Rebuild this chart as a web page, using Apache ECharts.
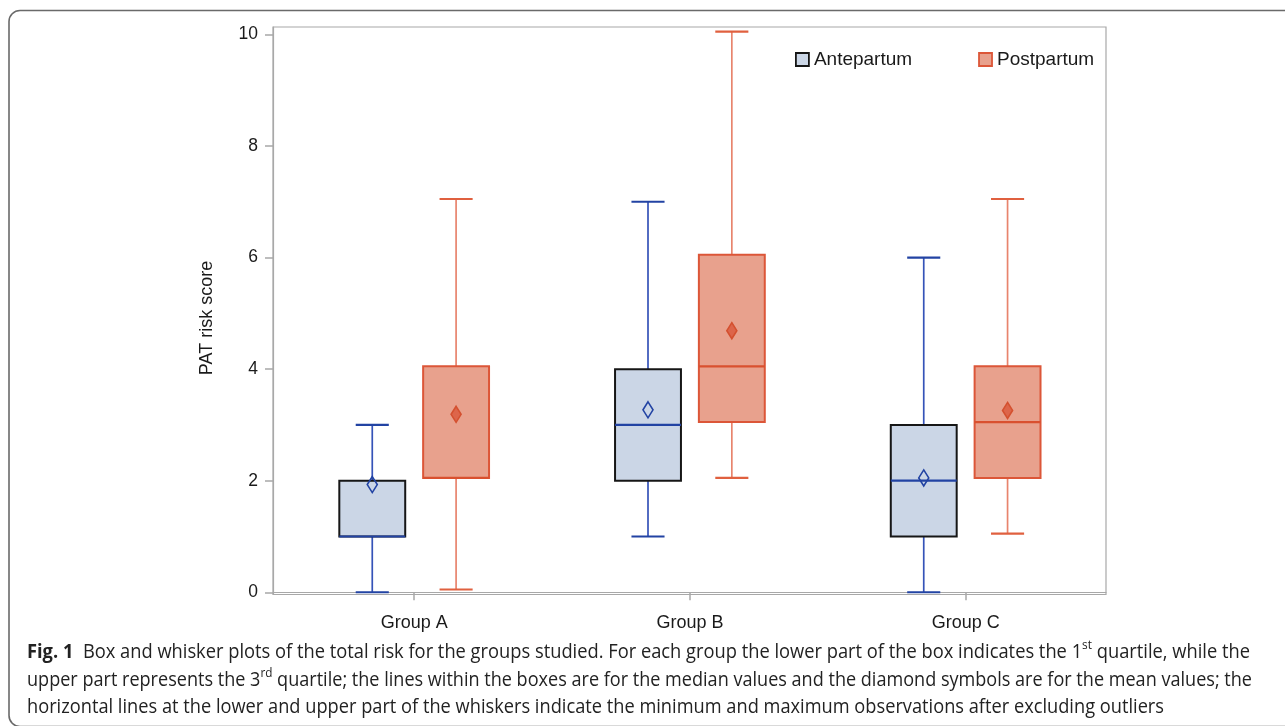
<!DOCTYPE html>
<html>
<head>
<meta charset="utf-8">
<script src="https://cdn.jsdelivr.net/npm/echarts@6/dist/echarts.min.js"></script>
<style>
  html, body { margin: 0; padding: 0; background: #ffffff; }
  #chart { width: 1285px; height: 726px; }
</style>
</head>
<body>
<div id="chart"></div>
<script>
// ---- data ----
const categories = ['Group A', 'Group B', 'Group C'];
const yTicks = [0, 2, 4, 6, 8, 10];

const antepartumMin    = [0, 1, 0];
const antepartumQ1     = [1, 2, 1];
const antepartumMedian = [1, 3, 2];
const antepartumQ3     = [2, 4, 3];
const antepartumMax    = [3, 7, 6];
const antepartumMean   = [1.93, 3.27, 2.05];

const postpartumMin    = [0.05, 2.05, 1.05];
const postpartumQ1     = [2.05, 3.05, 2.05];
const postpartumMedian = [2.05, 4.05, 3.05];
const postpartumQ3     = [4.05, 6.05, 4.05];
const postpartumMax    = [7.05, 10.05, 7.05];
const postpartumMean   = [3.19, 4.69, 3.26];

const captionLines = [
  ['Fig. 1', '  Box and whisker plots of the total risk for the groups studied. For each group the lower part of the box indicates the 1', 'st', ' quartile, while the'],
  ['', 'upper part represents the 3', 'rd', ' quartile; the lines within the boxes are for the median values and the diamond symbols are for the mean values; the'],
  ['', 'horizontal lines at the lower and upper part of the whiskers indicate the minimum and maximum observations after excluding outliers', '', '']
];

// ---- build series data ----
function build(mins, q1s, meds, q3s, maxs, means) {
  return categories.map((c, i) => [i + 1, mins[i], q1s[i], meds[i], q3s[i], maxs[i], means[i]]);
}
const anteData = build(antepartumMin, antepartumQ1, antepartumMedian, antepartumQ3, antepartumMax, antepartumMean);
const postData = build(postpartumMin, postpartumQ1, postpartumMedian, postpartumQ3, postpartumMax, postpartumMean);

const BOX_W = 0.239, CAP_W = 0.12, OFFSET = 0.152;

const anteStyle = {
  fill: '#cbd6e6', border: '#161616', median: '#2243a3', whisker: '#3553b8',
  cap: '#2243a3', dFill: 'rgba(0,0,0,0)', dStroke: '#2243a3'
};
const postStyle = {
  fill: '#e8a18d', border: '#dc5638', median: '#d9502f', whisker: '#e8846d',
  cap: '#e0603f', dFill: '#dd654a', dStroke: '#d4502f'
};

function makeRender(offset, st) {
  return function (params, api) {
    const x = api.value(0) + offset;
    const pMin = api.coord([x, api.value(1)]);
    const pQ1 = api.coord([x, api.value(2)]);
    const pMed = api.coord([x, api.value(3)]);
    const pQ3 = api.coord([x, api.value(4)]);
    const pMax = api.coord([x, api.value(5)]);
    const pMean = api.coord([x, api.value(6)]);
    const bw = api.size([BOX_W, 0])[0];
    const cw = api.size([CAP_W, 0])[0];
    const cx = pMin[0];
    const dw = 5, dh = 8;
    return {
      type: 'group',
      children: [
        { type: 'line', shape: { x1: cx, y1: pQ1[1], x2: cx, y2: pMin[1] },
          style: { stroke: st.whisker, lineWidth: 1.7 } },
        { type: 'line', shape: { x1: cx, y1: pQ3[1], x2: cx, y2: pMax[1] },
          style: { stroke: st.whisker, lineWidth: 1.7 } },
        { type: 'line', shape: { x1: cx - cw / 2, y1: pMin[1], x2: cx + cw / 2, y2: pMin[1] },
          style: { stroke: st.cap, lineWidth: 2.2 } },
        { type: 'line', shape: { x1: cx - cw / 2, y1: pMax[1], x2: cx + cw / 2, y2: pMax[1] },
          style: { stroke: st.cap, lineWidth: 2.2 } },
        { type: 'rect', shape: { x: cx - bw / 2, y: pQ3[1], width: bw, height: pQ1[1] - pQ3[1] },
          style: { fill: st.fill, stroke: st.border, lineWidth: 2 } },
        { type: 'line', shape: { x1: cx - bw / 2, y1: pMed[1], x2: cx + bw / 2, y2: pMed[1] },
          style: { stroke: st.median, lineWidth: 2.2 } },
        { type: 'polygon', shape: { points: [[pMean[0], pMean[1] - dh], [pMean[0] + dw, pMean[1]], [pMean[0], pMean[1] + dh], [pMean[0] - dw, pMean[1]]] },
          style: { fill: st.dFill, stroke: st.dStroke, lineWidth: 1.6 } }
      ]
    };
  };
}

const FONT = '"Liberation Sans", Arial, sans-serif';
const CAP_FAMILY = '"Open Sans", "Noto Sans", sans-serif';
const CAP_SIZE = 20;
const txt = '#1a1a1a';

// horizontal compression per caption line so each spans its width in the figure
const CAP_X = 27;
const capRight = [1250, 1252, 1164];
const capY = [652, 680, 707];
const ctx = document.createElement('canvas').getContext('2d');
function lineWidth(parts) {
  let w = 0;
  ctx.font = 'bold ' + CAP_SIZE + 'px ' + CAP_FAMILY;
  w += ctx.measureText(parts[0]).width;
  ctx.font = CAP_SIZE + 'px ' + CAP_FAMILY;
  w += ctx.measureText(parts[1] + parts[3]).width;
  ctx.font = '13px ' + CAP_FAMILY;
  w += ctx.measureText(parts[2]).width;
  return w;
}

const capRich = {
  b: { fontFamily: CAP_FAMILY, fontSize: CAP_SIZE, fontWeight: 'bold', fill: '#222', lineHeight: 26 },
  n: { fontFamily: CAP_FAMILY, fontSize: CAP_SIZE, fill: '#222', lineHeight: 26 },
  s: { fontFamily: CAP_FAMILY, fontSize: 13, fill: '#222', verticalAlign: 'top', lineHeight: 16 }
};
function capText(parts) {
  let t = '';
  if (parts[0]) t += '{b|' + parts[0] + '}';
  if (parts[1]) t += '{n|' + parts[1] + '}';
  if (parts[2]) t += '{s|' + parts[2] + '}';
  if (parts[3]) t += '{n|' + parts[3] + '}';
  return t;
}

const chart = echarts.init(document.getElementById('chart'), null, { renderer: 'canvas' });

chart.setOption({
  animation: false,
  backgroundColor: '#ffffff',
  grid: { left: 273, right: 179, top: 27, bottom: 131.5, show: true, borderColor: '#a8a8a8', borderWidth: 1.2, containLabel: false },
  legend: {
    left: 795, top: 50, padding: 0, itemWidth: 13, itemHeight: 13, itemGap: 66, selectedMode: false,
    textStyle: { fontFamily: FONT, fontSize: 19, color: txt },
    data: [
      { name: 'Antepartum', icon: 'rect', itemStyle: { color: '#cbd6e6', borderColor: '#161616', borderWidth: 1.8 } },
      { name: 'Postpartum', icon: 'rect', itemStyle: { color: '#e8a18d', borderColor: '#dc5638', borderWidth: 1.8 } }
    ]
  },
  xAxis: {
    type: 'value', min: 0.488, max: 3.509,
    axisLine: { show: true, lineStyle: { color: '#a8a8a8', width: 1.2 } },
    axisTick: { show: true, length: 8, customValues: [1, 2, 3], lineStyle: { color: '#a8a8a8', width: 1.5 } },
    axisLabel: { customValues: [1, 2, 3], margin: 20, fontFamily: FONT, fontSize: 18, color: txt,
      formatter: v => categories[Math.round(v) - 1] || '' },
    splitLine: { show: false }
  },
  yAxis: {
    type: 'value', min: -0.04, max: 10.133,
    axisLine: { show: true, lineStyle: { color: '#a8a8a8', width: 1.2 } },
    axisTick: { show: true, length: 8, customValues: yTicks, lineStyle: { color: '#a8a8a8', width: 1.5 } },
    axisLabel: { customValues: yTicks, margin: 15, fontFamily: FONT, fontSize: 17.5, color: txt },
    splitLine: { show: false }
  },
  series: [
    { name: 'Antepartum', type: 'custom', renderItem: makeRender(-OFFSET, anteStyle), data: anteData,
      itemStyle: { color: '#cbd6e6' }, encode: { x: 0, y: [1, 2, 3, 4, 5, 6] }, clip: false },
    { name: 'Postpartum', type: 'custom', renderItem: makeRender(OFFSET, postStyle), data: postData,
      itemStyle: { color: '#e8a18d' }, encode: { x: 0, y: [1, 2, 3, 4, 5, 6] }, clip: false }
  ],
  graphic: [
    { type: 'rect', silent: true, shape: { x: 9, y: 10.5, width: 1400, height: 716, r: 11 },
      style: { fill: 'none', stroke: '#6a6a6a', lineWidth: 1.6 } },
    { type: 'text', x: 207, y: 318, rotation: Math.PI / 2,
      style: { text: 'PAT risk score', fontFamily: FONT, fontSize: 18, fill: txt, align: 'center', verticalAlign: 'middle' } }
  ].concat(captionLines.map((parts, i) => ({
    type: 'text', x: CAP_X, y: capY[i], scaleX: (capRight[i] - CAP_X) / lineWidth(parts), originX: 0,
    style: { text: capText(parts), verticalAlign: 'middle', rich: capRich }
  })))
});
</script>
</body>
</html>
